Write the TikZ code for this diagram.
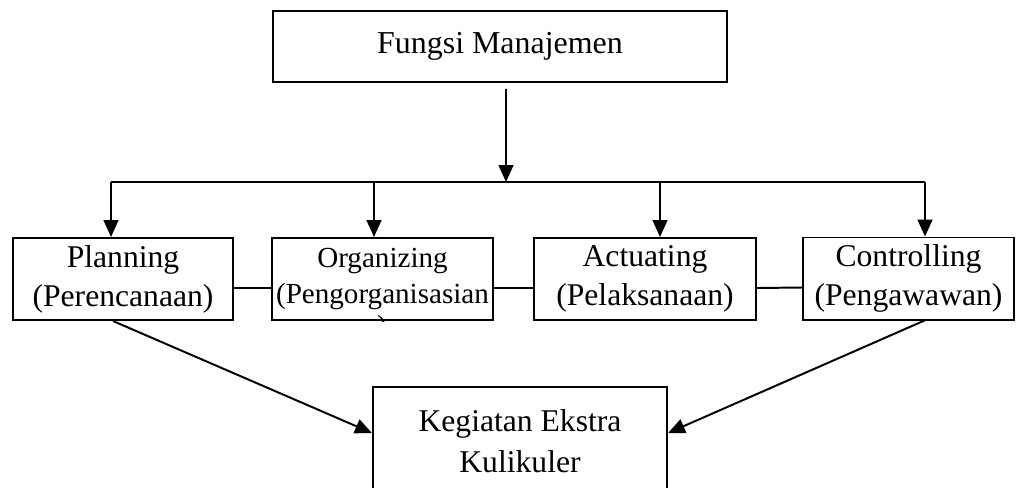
\documentclass[tikz,border=0pt]{standalone}
\usepackage{fontspec}
\setmainfont{Liberation Serif}
\usetikzlibrary{arrows.meta}

\begin{document}
\begin{tikzpicture}[
  x=0.025cm, y=-0.025cm,
  >={Triangle[length=12pt, width=10.5pt]},
  flow/.style={->, draw=black, line width=1.4pt},
  link/.style={draw=black, line width=1.4pt},
  box/.style={draw=black, line width=1.4pt, inner sep=0pt, align=center,
              minimum height=2.05cm, font=\fontsize{22.5}{27.7}\selectfont},
  tail/.style={inner sep=0pt, anchor=base, font=\fontsize{20.7}{24.9}\selectfont}
]
  \useasboundingbox (0,0) rectangle (1016,487);

  \node[box, minimum width=11.35cm, minimum height=1.775cm,
        font=\fontsize{22.7}{27.7}\selectfont]
    (manajemen) at (500,46.5) {Fungsi Manajemen};
  \node[box, minimum width=5.5cm]   (planning)    at (123,279)   {Planning\\(Perencanaan)};
  \node[box, minimum width=5.525cm, font=\fontsize{20.7}{24.9}\selectfont]
    (organizing) at (382.5,279) {Organizing\\(Pengorganisasian};
  \node[box, minimum width=5.55cm]  (actuating)   at (645,279)   {Actuating\\(Pelaksanaan)};
  \node[box, minimum width=5.275cm] (controlling) at (908.5,278.5) {Controlling\\(Pengawawan)};
  \node[box, minimum width=7.35cm, minimum height=2.7cm,
        font=\fontsize{22.5}{29.1}\selectfont]
    (kegiatan) at (520,441) {Kegiatan Ekstra\\Kulikuler};

  % the closing bracket that falls outside the text box
  \begin{scope}
    \clip (organizing.south west) rectangle (organizing.north east);
    \node[tail] (orgtail) at (382,335) {)};
  \end{scope}

  \coordinate (busM) at (506,182);
  \coordinate (busP) at (111,182);
  \coordinate (busO) at (374,182);
  \coordinate (busA) at (660,182);
  \coordinate (busC) at (925,182);

  \draw[flow] ([xshift=0.15cm, yshift=-0.15cm]manajemen.south) -- (busM);
  \draw[link] (busP) -- (busC);
  \foreach \bus/\target in {busP/planning, busO/organizing, busA/actuating, busC/controlling}
    \draw[flow] (\bus) -- (\bus |- \target.north);

  \draw[link] ([yshift=-0.225cm]planning.east)  -- ([yshift=-0.225cm]organizing.west);
  \draw[link] ([yshift=-0.225cm]organizing.east) -- ([yshift=-0.225cm]actuating.west);
  \draw[link] ([yshift=-0.225cm]actuating.east)  -- ([yshift=-0.225cm]controlling.west);

  \draw[flow] ([xshift=-0.25cm]planning.south) -- ([yshift=0.2cm]kegiatan.west);
  \draw[flow] ([xshift=0.4cm]controlling.south) -- ([yshift=0.2cm]kegiatan.east);
\end{tikzpicture}
\end{document}
